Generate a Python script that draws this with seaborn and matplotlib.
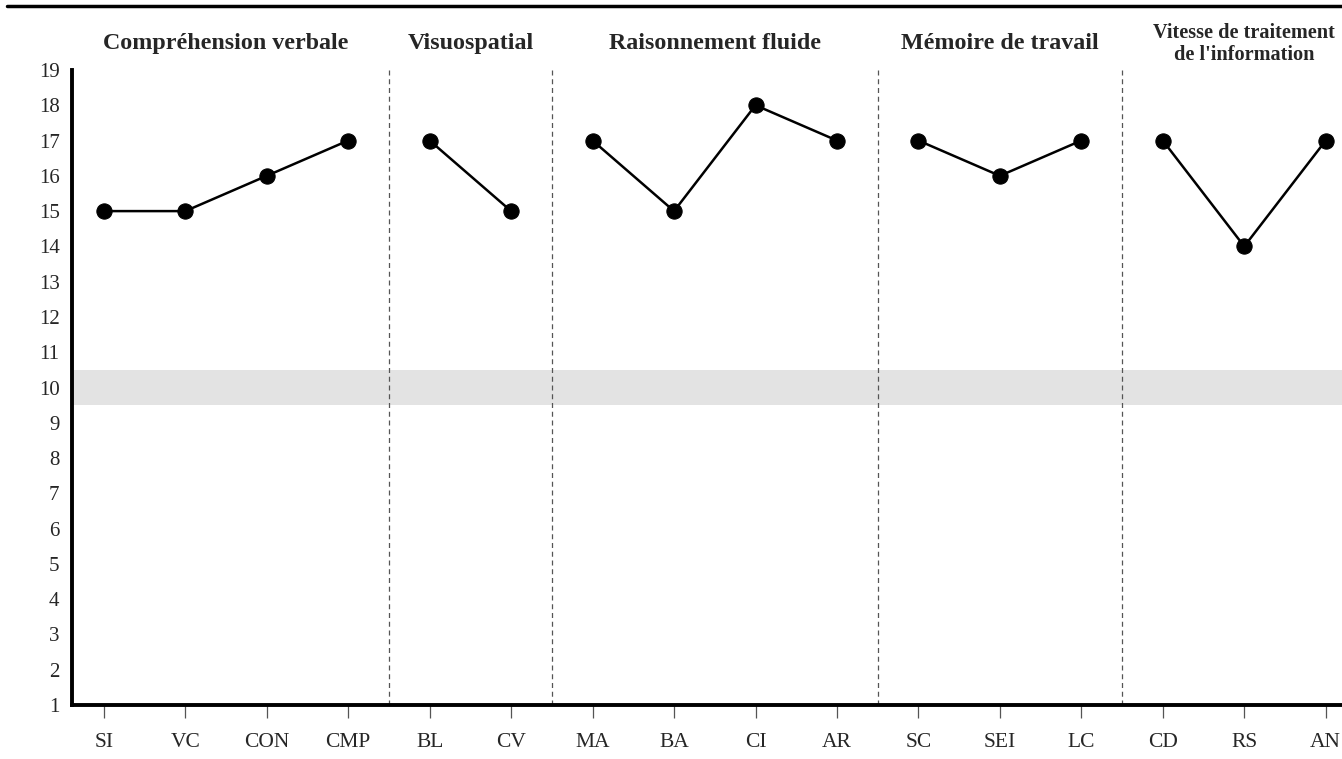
import pandas as pd
import matplotlib.pyplot as plt
import matplotlib.lines as mlines
import seaborn as sns

# Subtest scores
subtests = ['SI', 'VC', 'CON', 'CMP', 'BL', 'CV', 'MA', 'BA', 'CI', 'AR',
            'SC', 'SEI', 'LC', 'CD', 'RS', 'AN']
scores = [15, 15, 16, 17, 17, 15, 17, 15, 18, 17, 17, 16, 17, 17, 14, 17]
groups = ['Compréhension verbale'] * 4 + ['Visuospatial'] * 2 + \
         ['Raisonnement fluide'] * 4 + ['Mémoire de travail'] * 3 + \
         ["Vitesse de traitement\nde l'information"] * 3
group_names = ['Compréhension verbale', 'Visuospatial', 'Raisonnement fluide',
               'Mémoire de travail', "Vitesse de traitement\nde l'information"]

df = pd.DataFrame({'subtest': subtests, 'score': scores, 'group': groups})
df['pos'] = range(len(df))

sns.set_style('white')
plt.rcParams['font.family'] = ['Liberation Serif', 'DejaVu Serif']

fig = plt.figure(figsize=(13.42, 7.59), dpi=100)
ax = fig.add_axes([0.0537, 0.0711, 0.9463, 0.8367])

# average band
ax.axhspan(9.5, 10.5, color='#e3e3e3', zorder=0, lw=0)

sns.lineplot(data=df, x='pos', y='score', units='group', estimator=None,
             color='black', marker='o', markersize=11, linewidth=1.8,
             markeredgecolor='black', ax=ax, zorder=3)

# group separators and headers
edges = [0]
for g in group_names:
    edges.append(edges[-1] + groups.count(g))
for e in edges[1:-1]:
    ax.axvline(e - 0.5, color='#555555', linestyle=(0, (4, 3)), linewidth=0.9, zorder=1)
for i, g in enumerate(group_names):
    mid = (edges[i] + edges[i + 1] - 1) / 2
    two = '\n' in g
    ax.text(mid, 19.74, g, ha='center', va='center', fontsize=14.6 if two else 17.3,
            fontweight='bold', linespacing=1.1, clip_on=False)

ax.set_xlim(-0.39, 15.2)
ax.set_ylim(1, 19)
ax.set_xticks(df['pos'])
ax.set_xticklabels(df['subtest'])
ax.set_yticks(range(1, 20))
ax.set_xlabel('')
ax.set_ylabel('')
ax.tick_params(axis='x', bottom=True, length=9, width=0.9, color='#555555',
               pad=11, labelsize=15.5)
ax.tick_params(axis='y', left=False, length=0, labelsize=15, pad=9)
for s in ['top', 'right']:
    ax.spines[s].set_visible(False)
for s in ['left', 'bottom']:
    ax.spines[s].set_linewidth(2.8)
    ax.spines[s].set_color('black')

# rule at the top of the page
fig.add_artist(mlines.Line2D([0.005, 1.0], [0.992, 0.992], color='black', lw=2.5))

fig.savefig('out.png', dpi=100)
